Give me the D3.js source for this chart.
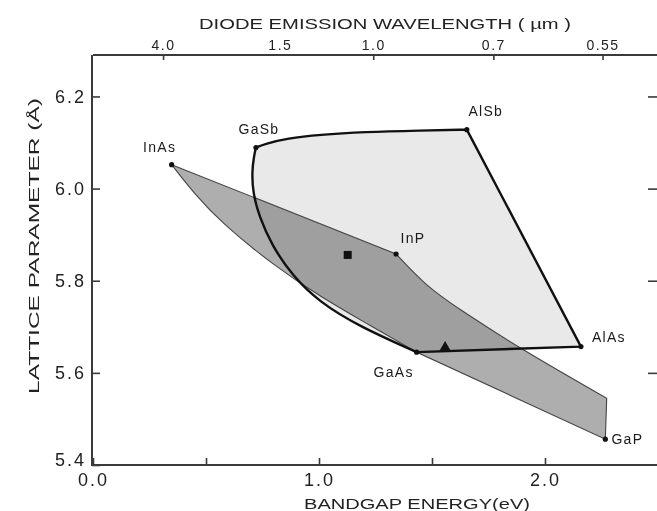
<!DOCTYPE html>
<html><head><meta charset="utf-8">
<script src="https://cdn.jsdelivr.net/npm/d3@7"></script>
<style>
html,body{margin:0;padding:0;background:#fff;}
svg{display:block;font-family:"Liberation Sans",Arial,sans-serif;}
</style></head>
<body>
<svg id="chart" width="657" height="511"></svg>
<script>
// ---- data (bandgap energy eV, lattice parameter Å) ----
const compounds = [
  {name:"InAs", E:0.348, a:6.052, dx:-12, dy:-18},
  {name:"GaSb", E:0.721, a:6.089, dx:3,  dy:-19},
  {name:"AlSb", E:1.654, a:6.128, dx:19, dy:-19},
  {name:"InP",  E:1.341, a:5.858, dx:17, dy:-16},
  {name:"GaAs", E:1.432, a:5.645, dx:-23, dy:20},
  {name:"AlAs", E:2.159, a:5.657, dx:28, dy:-10},
  {name:"GaP",  E:2.267, a:5.456, dx:22, dy:0}
];
// GaSb -> AlSb upper boundary (bowing)
const gaSbAlSbE = [0.721, 0.760, 0.860, 1.000, 1.200, 1.450, 1.654];
const gaSbAlSbA = [6.089, 6.097, 6.109, 6.117, 6.123, 6.126, 6.128];
// GaAs -> GaSb boundary (GaAsSb bowing curve)
const gaAsSbE = [1.432, 1.181, 1.000, 0.880, 0.790, 0.735, 0.708, 0.703, 0.712, 0.721];
const gaAsSbA = [5.645, 5.700, 5.754, 5.812, 5.878, 5.940, 5.990, 6.035, 6.070, 6.089];
// InAs -> GaAs lower boundary (InGaAs)
const inGaAsE = [0.348, 0.450, 0.570, 0.800, 1.004, 1.200, 1.432];
const inGaAsA = [6.052, 5.988, 5.925, 5.833, 5.766, 5.710, 5.645];
// InP -> right edge upper boundary
const inPEdgeE = [1.341, 1.470, 1.620, 1.889, 2.273];
const inPEdgeA = [5.858, 5.790, 5.738, 5.653, 5.545];
// special markers
const squareMark = {E:1.127, a:5.856};
const triangleMark = {E:1.558, a:5.650};
// axes
const energyTicks = [0.0, 0.5, 1.0, 1.5, 2.0];
const energyLabels = ["0.0", "", "1.0", "", "2.0"];
const latticeTicks = [5.4, 5.6, 5.8, 6.0, 6.2];
const latticeLabels = ["5.4", "5.6", "5.8", "6.0", "6.2"];
const wavelengthTicks = [4.0, 1.5, 1.0, 0.7, 0.55];
const wavelengthLabels = ["4.0", "1.5", "1.0", "0.7", "0.55"];
const wavelengthTickShown = [true, false, true, true, true];

// ---- layout ----
const svg = d3.select("#chart");
const x = d3.scaleLinear().domain([0, 2.5]).range([93, 658]);
const y = d3.scaleLinear().domain([5.4, 6.29]).range([465, 55]);
const pt = (E, a) => [x(E), y(a)];
const zip = (Es, As) => Es.map((e, i) => [e, As[i]]);
const get = n => compounds.find(c => c.name === n);

const smooth = d3.line().x(d => x(d[0])).y(d => y(d[1])).curve(d3.curveBasis);

const AlSb = get("AlSb"), AlAs = get("AlAs"), GaAs = get("GaAs"), InAs = get("InAs"), InP = get("InP"), GaP = get("GaP");
const topCurve = smooth(zip(gaSbAlSbE, gaSbAlSbA));
const leftCurve = smooth(zip(gaAsSbE, gaAsSbA));
const lightPath = topCurve + "L" + pt(AlAs.E, AlAs.a).join(",") + "L" + pt(GaAs.E, GaAs.a).join(",") + "L" + leftCurve.slice(1);

const inPCurve = smooth(zip(inPEdgeE, inPEdgeA));
const inGaAsRev = zip(inGaAsE, inGaAsA).slice().reverse();
const inGaAsCurve = smooth(inGaAsRev);
const mediumPath = "M" + pt(InAs.E, InAs.a).join(",") + "L" + inPCurve.slice(1) +
  "L" + pt(GaP.E, GaP.a).join(",") + "L" + pt(GaAs.E, GaAs.a).join(",") + "L" + inGaAsCurve.slice(1) + "Z";

const g = svg.append("g");
g.append("path").attr("d", lightPath + "Z").attr("fill", "#e9e9e9").attr("stroke", "none");
g.append("path").attr("d", mediumPath).attr("fill", "#aeaeae").attr("stroke", "none")
  .style("mix-blend-mode", "multiply");
g.append("path").attr("d", mediumPath).attr("fill", "none").attr("stroke", "#444").attr("stroke-width", 1.1);
g.append("path").attr("d", lightPath).attr("fill", "none").attr("stroke", "#111")
  .attr("stroke-width", 2.4).attr("stroke-linejoin", "round");

g.selectAll("circle.cmp").data(compounds).join("circle").attr("class", "cmp")
  .attr("cx", d => x(d.E)).attr("cy", d => y(d.a)).attr("r", 2.6).attr("fill", "#111");
g.selectAll("text.cmp").data(compounds).join("text").attr("class", "cmp")
  .attr("x", d => x(d.E) + d.dx).attr("y", d => y(d.a) + d.dy)
  .attr("text-anchor", "middle").attr("dominant-baseline", "central")
  .attr("font-size", 14).attr("letter-spacing", 1.3).attr("fill", "#1a1a1a")
  .text(d => d.name);

g.append("path").attr("d", d3.symbol(d3.symbolSquare, 64)())
  .attr("transform", `translate(${x(squareMark.E)},${y(squareMark.a)})`).attr("fill", "#111");
g.append("path").attr("d", d3.symbol(d3.symbolTriangle, 60)())
  .attr("transform", `translate(${x(triangleMark.E)},${y(triangleMark.a) - 2})`).attr("fill", "#111");

// ---- axes ----
function styleAxis(sel, fs) {
  sel.selectAll(".domain").attr("stroke", "#3a3a3a").attr("stroke-width", 2);
  sel.selectAll(".tick line").attr("stroke", "#3a3a3a").attr("stroke-width", 1.6);
  sel.selectAll(".tick text").attr("fill", "#222").attr("font-size", fs)
    .attr("font-family", "'Liberation Sans',Arial,sans-serif");
}
const axBottom = svg.append("g").attr("transform", "translate(0,465)")
  .call(d3.axisBottom(x).tickValues(energyTicks).tickFormat((d, i) => energyLabels[i])
    .tickSizeInner(-7).tickSizeOuter(0).tickPadding(8));
styleAxis(axBottom, 18);
axBottom.selectAll(".tick text").attr("letter-spacing", 2);

const axLeft = svg.append("g").attr("transform", "translate(92,0)")
  .call(d3.axisLeft(y).tickValues(latticeTicks).tickFormat((d, i) => latticeLabels[i])
    .tickSizeInner(-8).tickSizeOuter(0).tickPadding(6));
styleAxis(axLeft, 18);
axLeft.selectAll(".tick text").attr("letter-spacing", 2)
  .attr("dy", (d, i) => i === 0 ? "0.0em" : "0.32em");

const axRight = svg.append("g").attr("transform", "translate(657,0)")
  .call(d3.axisRight(y).tickValues(latticeTicks.slice(1)).tickFormat("").tickSizeInner(-9).tickSizeOuter(0));
styleAxis(axRight, 12);
axRight.select(".domain").remove();

const axTop = svg.append("g").attr("transform", "translate(0,55)")
  .call(d3.axisTop(x).tickValues(wavelengthTicks.map(l => 1.24 / l))
    .tickFormat((d, i) => wavelengthLabels[i]).tickSizeInner(-5).tickSizeOuter(0).tickPadding(5));
styleAxis(axTop, 14);
axTop.selectAll(".tick text").attr("letter-spacing", 1.5);
axTop.selectAll(".tick line").attr("opacity", (d, i) => wavelengthTickShown[i] ? 1 : 0);
axTop.select(".domain").attr("d", `M${x(0)},0H657`);
axBottom.select(".domain").attr("d", `M${x(0) - 1},0H657`);
axLeft.select(".domain").attr("d", `M0,${y(6.29)}V${y(5.4) + 1}`);

// ---- titles ----
svg.append("text").attr("x", 385).attr("y", 23).attr("text-anchor", "middle")
  .attr("dominant-baseline", "central").attr("font-size", 15).attr("fill", "#222")
  .attr("textLength", 372).attr("lengthAdjust", "spacingAndGlyphs")
  .text("DIODE EMISSION WAVELENGTH ( µm )");
svg.append("text").attr("x", 417).attr("y", 503).attr("text-anchor", "middle")
  .attr("dominant-baseline", "central").attr("font-size", 15).attr("fill", "#222")
  .attr("textLength", 226).attr("lengthAdjust", "spacingAndGlyphs")
  .text("BANDGAP ENERGY(eV)");
svg.append("text").attr("transform", "translate(33,246) rotate(-90)").attr("text-anchor", "middle")
  .attr("dominant-baseline", "central").attr("font-size", 15).attr("fill", "#222")
  .attr("textLength", 296).attr("lengthAdjust", "spacingAndGlyphs")
  .text("LATTICE PARAMETER (Å)");
</script>
</body></html>
